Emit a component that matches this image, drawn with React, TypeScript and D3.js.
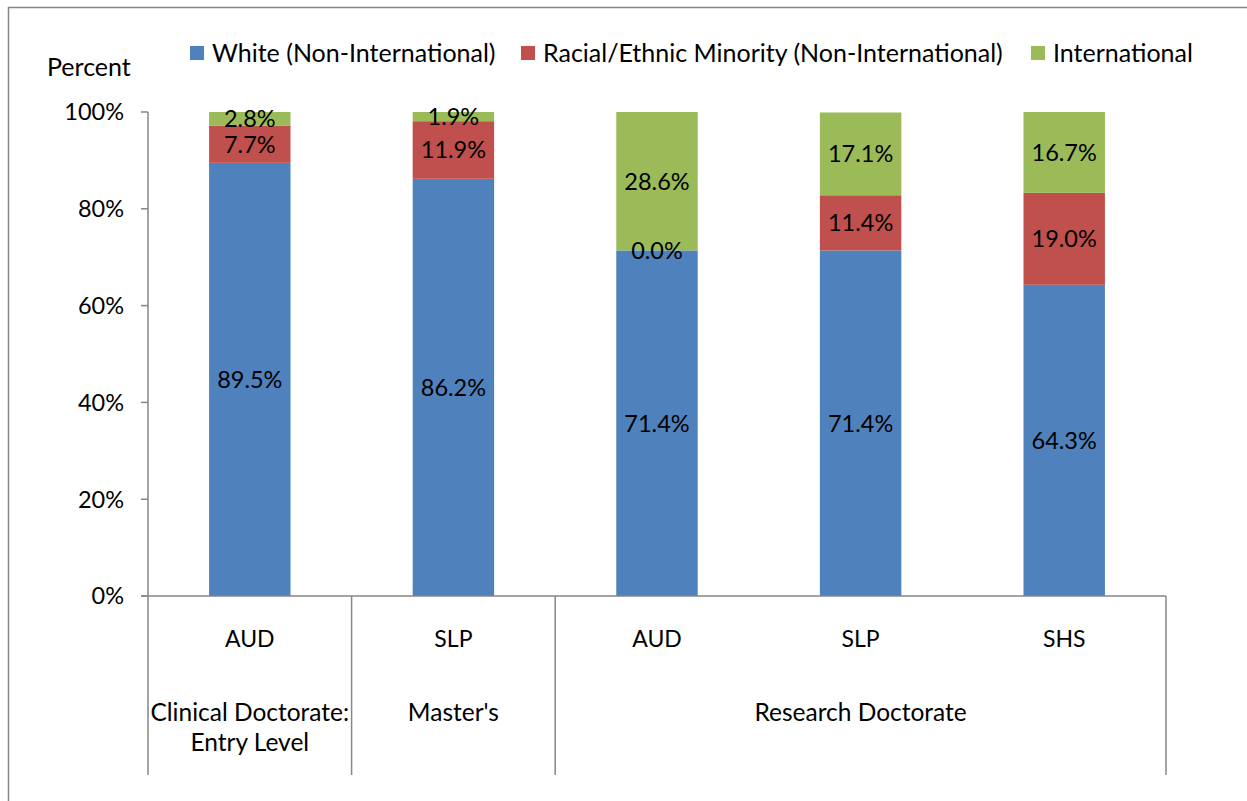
import React, { useEffect, useRef } from "react";
import * as d3 from "d3";

const categories = ["AUD", "SLP", "AUD", "SLP", "SHS"];
const groups = [
  { label: ["Clinical Doctorate:", "Entry Level"], span: 1 },
  { label: ["Master's"], span: 1 },
  { label: ["Research Doctorate"], span: 3 },
];
const seriesNames = [
  "White (Non-International)",
  "Racial/Ethnic Minority (Non-International)",
  "International",
];
const white = [89.5, 86.2, 71.4, 71.4, 64.3];
const minority = [7.7, 11.9, 0.0, 11.4, 19.0];
const international = [2.8, 1.9, 28.6, 17.1, 16.7];
const yTicks = [0, 20, 40, 60, 80, 100];
const colors = ["#4F81BD", "#C0504D", "#9BBB59"];

const W = 1247;
const H = 801;
const FONT = "Lato, 'Open Sans', sans-serif";

const App = () => {
  const ref = useRef<SVGSVGElement>(null);

  useEffect(() => {
    const svg = d3.select(ref.current);
    svg.selectAll("*").remove();

    const left = 148;
    const right = 1166;
    const top = 112;
    const bottom = 596;
    const axisBottom = 775;
    const grey = "#868686";

    // outer chart border
    svg
      .append("rect")
      .attr("x", 8.5)
      .attr("y", 7.5)
      .attr("width", W + 20)
      .attr("height", H + 20)
      .attr("fill", "none")
      .attr("stroke", grey)
      .attr("stroke-width", 1.5);

    const keys = categories.map((_, i) => i);
    const x = d3
      .scaleBand<number>()
      .domain(keys)
      .range([left, right])
      .paddingInner(0.6)
      .paddingOuter(0.3);
    const step = x.step();
    const y = d3.scaleLinear().domain([0, 100]).range([bottom, top]);

    const rows = categories.map((c, i) => ({
      i,
      s0: white[i],
      s1: minority[i],
      s2: international[i],
    }));
    const stack = d3.stack<any>().keys(["s0", "s1", "s2"]);
    const layers = stack(rows);

    layers.forEach((layer, k) => {
      svg
        .append("g")
        .selectAll("rect")
        .data(layer)
        .join("rect")
        .attr("x", (d: any) => x(d.data.i)!)
        .attr("width", x.bandwidth())
        .attr("y", (d) => y(d[1]))
        .attr("height", (d) => y(d[0]) - y(d[1]))
        .attr("fill", colors[k]);
    });

    // value labels
    layers.forEach((layer) => {
      svg
        .append("g")
        .selectAll("text")
        .data(layer)
        .join("text")
        .attr("x", (d: any) => x(d.data.i)! + x.bandwidth() / 2)
        .attr("y", (d) => (y(d[0]) + y(d[1])) / 2)
        .attr("dy", "0.36em")
        .attr("text-anchor", "middle")
        .attr("font-family", FONT)
        .attr("font-size", 23.5)
        .attr("fill", "#000")
        .text((d) => (d[1] - d[0]).toFixed(1) + "%");
    });

    // y axis
    svg
      .append("line")
      .attr("x1", left)
      .attr("x2", left)
      .attr("y1", top)
      .attr("y2", bottom)
      .attr("stroke", grey)
      .attr("stroke-width", 1.5);
    const yt = svg.append("g");
    yt.selectAll("line")
      .data(yTicks)
      .join("line")
      .attr("x1", left - 7)
      .attr("x2", left)
      .attr("y1", (d) => y(d))
      .attr("y2", (d) => y(d))
      .attr("stroke", grey)
      .attr("stroke-width", 1.5);
    yt.selectAll("text")
      .data(yTicks)
      .join("text")
      .attr("x", 124)
      .attr("y", (d) => y(d))
      .attr("dy", "0.36em")
      .attr("text-anchor", "end")
      .attr("font-family", FONT)
      .attr("font-size", 23.5)
      .text((d) => d + "%");

    svg
      .append("text")
      .attr("x", 47)
      .attr("y", 76)
      .attr("font-family", FONT)
      .attr("font-size", 25)
      .text("Percent");

    // x axis with multi-level categories
    svg
      .append("line")
      .attr("x1", left - 7)
      .attr("x2", right)
      .attr("y1", bottom)
      .attr("y2", bottom)
      .attr("stroke", grey)
      .attr("stroke-width", 1.5);

    svg
      .append("g")
      .selectAll("text")
      .data(keys)
      .join("text")
      .attr("x", (i) => x(i)! + x.bandwidth() / 2)
      .attr("y", 647)
      .attr("text-anchor", "middle")
      .attr("font-family", FONT)
      .attr("font-size", 23)
      .text((i) => categories[i]);

    let start = 0;
    const dividers = [left];
    groups.forEach((g) => {
      const x0 = left + start * step;
      const x1 = left + (start + g.span) * step;
      dividers.push(x1);
      const t = svg
        .append("text")
        .attr("text-anchor", "middle")
        .attr("font-family", FONT)
        .attr("font-size", 24.5);
      g.label.forEach((line, li) => {
        t.append("tspan")
          .attr("x", (x0 + x1) / 2)
          .attr("y", 721 + li * 30)
          .text(line);
      });
      start += g.span;
    });

    svg
      .append("g")
      .selectAll("line")
      .data(dividers)
      .join("line")
      .attr("x1", (d) => d)
      .attr("x2", (d) => d)
      .attr("y1", bottom)
      .attr("y2", axisBottom)
      .attr("stroke", grey)
      .attr("stroke-width", 1.5);

    // legend
    const legendX = [190, 521, 1031];
    const lg = svg
      .append("g")
      .selectAll("g")
      .data(seriesNames)
      .join("g")
      .attr("transform", (_, i) => `translate(${legendX[i]},46)`);
    lg.append("rect")
      .attr("width", 14)
      .attr("height", 14)
      .attr("fill", (_, i) => colors[i]);
    lg.append("text")
      .attr("x", 22)
      .attr("y", 7)
      .attr("dy", "0.36em")
      .attr("font-family", FONT)
      .attr("font-size", 25)
      .text((d) => d);
  }, []);

  return (
    <svg
      ref={ref}
      width={W}
      height={H}
      style={{ position: "absolute", left: 0, top: 0, background: "#fff" }}
    />
  );
};

export default App;
